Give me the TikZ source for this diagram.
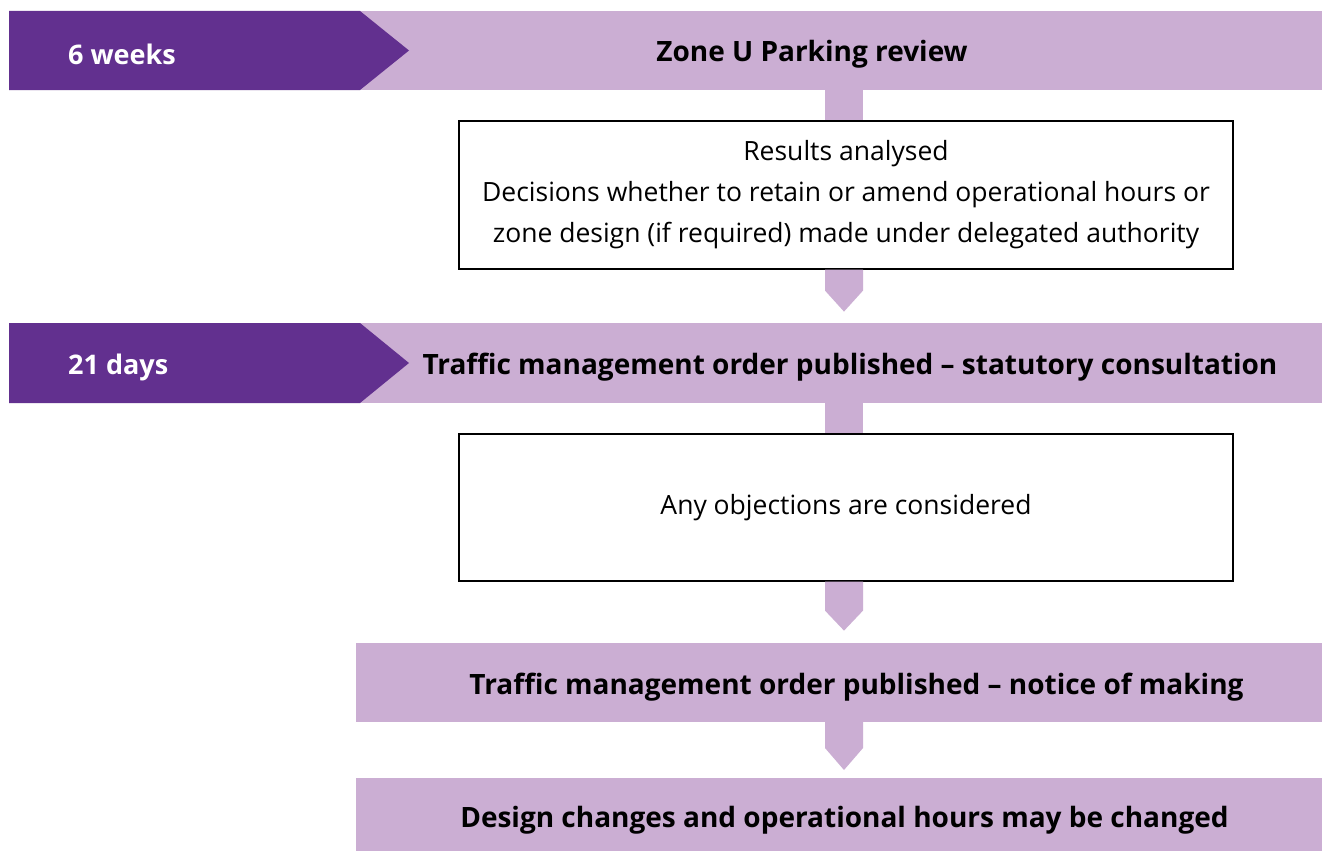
\documentclass[tikz,border=0pt]{standalone}
\usepackage{fontspec}
\setmainfont{Open Sans}
\usetikzlibrary{calc}
\definecolor{darkpurple}{RGB}{98,48,143}
\definecolor{lilac}{RGB}{203,174,211}
\tikzset{
  band/.style={fill=lilac, inner sep=0pt, outer sep=0pt},
  bandtext/.style={font=\fontsize{28}{32}\selectfont\bfseries, inner sep=0pt},
  periodtext/.style={font=\fontsize{27}{32}\selectfont\bfseries, text=white, anchor=west, inner sep=0pt},
  box/.style={draw=black, line width=1.2pt, fill=white, inner sep=0pt, outer sep=0pt,
    minimum width=774pt, align=center, font=\fontsize{26.5}{41}\selectfont},
  stem/.style={fill=lilac},
  period/.style={fill=darkpurple}
}
\begin{document}
\begin{tikzpicture}[x=1pt,y=-1pt]
\path[use as bounding box,fill=white] (0,0) rectangle (1322,851);

% bands
\node[band, minimum width=1313pt, minimum height=79pt] (review) at (665.5,50.5) {};
\node[band, minimum width=1313pt, minimum height=80pt] (tmo) at (665.5,363) {};
\node[band, minimum width=966pt, minimum height=79pt] (notice) at (839,682.5) {};
\node[band, minimum width=966pt, minimum height=73pt] (changes) at (839,814.5) {};

% period arrows
\fill[period] (review.north west) -- ++(351,0) -- ($(review.west)+(400,0)$)
  -- ($(review.south west)+(351,0)$) -- (review.south west) -- cycle;
\fill[period] (tmo.north west) -- ++(351,0) -- ($(tmo.west)+(400,0)$)
  -- ($(tmo.south west)+(351,0)$) -- (tmo.south west) -- cycle;
\node[periodtext] (weeks) at (68,54) {6 weeks};
\node[periodtext] (days) at (68,367) {21 days};

% boxes
\node[box, minimum height=148pt] (results) at (846,195) {Results analysed\\
  Decisions whether to retain or amend operational hours or\\
  zone design (if required) made under delegated authority};
\node[box, minimum height=147pt] (objections) at (846,507.5) {Any objections are considered};

% connectors
\fill[stem] ($(results.north)+(-21,-0.6)$) rectangle ($(results.north |- review.south)+(17,0)$);
\fill[stem] ($(results.south)+(-21,0.6)$) -- ++(38,0) -- ++(0,21) -- ++(-19,21) -- ++(-19,-21) -- cycle;
\fill[stem] ($(objections.north)+(-21,-0.6)$) rectangle ($(objections.north |- tmo.south)+(17,0)$);
\fill[stem] ($(objections.south)+(-21,0.6)$) -- ++(38,0) -- ++(0,29) -- ++(-19,20) -- ++(-19,-20) -- cycle;
\fill[stem] ($(notice.south -| results.south)+(-21,0)$) -- ++(38,0) -- ++(0,26) -- ++(-19,22) -- ++(-19,-22) -- cycle;

% band labels
\node[bandtext] (reviewlbl) at (812,54) {Zone U Parking review};
\node[bandtext] (tmolbl) at (850,367) {Traffic management order published -- statutory consultation};
\node[bandtext] (noticelbl) at (856.5,687) {Traffic management order published -- notice of making};
\node[bandtext] (changeslbl) at (844.5,820) {Design changes and operational hours may be changed};
\end{tikzpicture}
\end{document}
